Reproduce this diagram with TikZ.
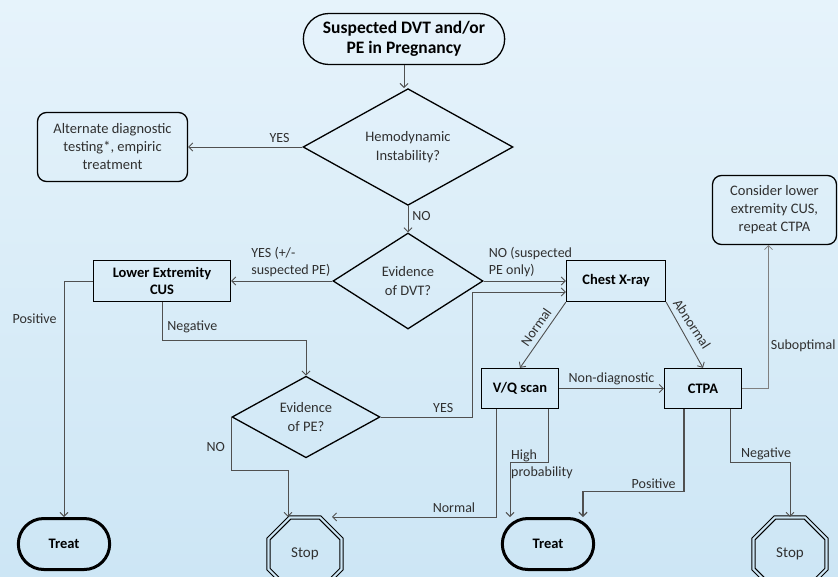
\documentclass[tikz,border=0pt]{standalone}
\usepackage{fontspec}
\setmainfont{Carlito}
\usepackage{tikz}
\usetikzlibrary{shapes, arrows, arrows.meta, positioning, calc}

\definecolor{bgtop}{HTML}{E6F3FB}
\definecolor{bgbottom}{HTML}{CDE6F5}
\definecolor{linkgray}{HTML}{505050}
\definecolor{textgray}{HTML}{303030}

\begin{document}
\begin{tikzpicture}[x=1pt, y=-1pt, >={Straight Barb[length=4pt, width=8pt]},
 box/.style={rectangle, draw, line width=1.3pt, inner sep=2pt, align=center, font=\bfseries\fontsize{14.5}{17}\selectfont},
 note/.style={rectangle, draw, rounded corners=9pt, line width=1.3pt, align=center, text=textgray, font=\fontsize{14.5}{18}\selectfont},
 decision/.style={diamond, draw, line width=1.3pt, inner sep=0pt, align=center, text=textgray, font=\fontsize{14.5}{19}\selectfont},
 terminal/.style={rounded rectangle, draw, line width=3pt, font=\bfseries\fontsize{14.5}{17}\selectfont, minimum width=98pt, minimum height=51pt},
 stopsign/.style={regular polygon, regular polygon sides=8, draw, double=bgbottom, line width=1.1pt, double distance=2.2pt, minimum size=79pt, inner sep=0pt, text=textgray, font=\fontsize{15}{18}\selectfont},
 link/.style={draw=linkgray, line width=0.9pt, ->},
 lbl/.style={inner sep=0pt, align=left, text=textgray, font=\fontsize{14}{17}\selectfont}]

\useasboundingbox (0,0) rectangle (838,576);
\shade[top color=bgtop, bottom color=bgbottom] (0,0) rectangle (838,576);
\clip (0,0) rectangle (838,576);

\node[terminal, line width=1.3pt, align=center, minimum width=208pt, font=\bfseries\fontsize{17.5}{20}\selectfont] (start) at (404,39) {Suspected DVT and/or\\PE in Pregnancy};
\node[decision, minimum width=210pt, minimum height=90pt] (hemo) at (408,147) {Hemodynamic\\Instability?};
\node[note, minimum width=150pt, minimum height=69pt] (alt) at (112.5,147) {Alternate diagnostic\\testing*, empiric\\treatment};
\node[decision, minimum width=150pt, minimum height=96pt] (dvt) at (408,281) {Evidence\\of DVT?};
\node[box, minimum width=137pt, minimum height=41pt] (cus) at (162,281) {Lower Extremity\\CUS};
\node[box, minimum width=99pt, minimum height=41pt] (cxr) at (616,281) {Chest X-ray};
\node[note, minimum width=124pt, minimum height=69pt] (consider) at (774.5,210) {Consider lower\\extremity CUS,\\repeat CTPA};
\node[box, minimum width=77pt, minimum height=40pt] (vq) at (520,388.5) {V/Q scan};
\node[box, minimum width=77pt, minimum height=40pt] (ctpa) at (703,388.5) {CTPA};
\node[decision, minimum width=148pt, minimum height=81pt] (pe) at (306,417) {Evidence\\of PE?};
\node[terminal] (treatA) at (64,544) {Treat};
\node[terminal] (treatB) at (548,544) {Treat};
\node[stopsign] (stopA) at (305,554) {Stop};
\node[stopsign] (stopB) at (790,554) {Stop};

% top of the tree
\draw[link] (start.south) -- (start.south |- hemo.north);
\draw[link] (hemo.west) -- node[lbl, above=4pt, pos=0.2] (yesalt) {YES} (alt.east);
\draw[link] (hemo.south) -- node[lbl, right=4pt, pos=0.37] (nohemo) {NO} (dvt.north);
\draw[link] (dvt.west) -- node[lbl, above=4pt, pos=0.41] (yesdvt) {YES (+/-\\suspected PE)} (cus.east);
\draw[link] (dvt.east) -- node[lbl, above=4pt, pos=0.57] (nodvt) {NO (suspected\\PE only)} (cxr.west);

% ultrasound branch
\draw[link] (cus.west) -| node[lbl, left=7pt, pos=0.58] (poscus) {Positive} (treatA.north);
\draw[link] (cus.south) -- node[lbl, right=5pt, pos=0.66] (negcus) {Negative} ++(0,38) -| (pe.north);
\draw[link] (pe.west) -- node[lbl, left=6pt, pos=0.57] (nope) {NO} ++(0,53) -| ($(stopA.north)+(-17,0)$);
\draw[link] (pe.east) -- node[lbl, above=4pt, pos=0.68] (yespe) {YES} ++(92,0) |- ($(cxr.west)+(0,11)$);

% imaging branch
\draw[link] (cxr.south west) -- (vq.north);
\node[lbl, rotate=55] (normcxr) at (536,327) {Normal};
\draw[link] (cxr.south east) -- (ctpa.north);
\node[lbl, rotate=-57] (abncxr) at (692,324) {Abnormal};
\draw[link] (vq.east) -- node[lbl, above=3pt] (nondiag) {Non-diagnostic} (ctpa.west);
\draw[link, draw=gray, line width=0.7pt] (ctpa.east) -| node[lbl, right=2pt, pos=0.65] (subopt) {Suboptimal} ([xshift=-6pt]consider.south);
\draw[link] ($(vq.south west)+(16,0)$) |- node[lbl, above=4pt, pos=0.63] (normvq) {Normal} ($(stopA.north)+(27,0)$);
\draw[link] ($(vq.south east)+(-11,0)$) -- ++(0,53) -| ($(treatB.north)+(-38,0)$);
\node[lbl, anchor=west] (highvq) at (511,464) {High\\probability};
\draw[link, line width=1.2pt] ($(ctpa.south)+(-19,0)$) -- ++(0,82) -| node[lbl, above=2pt, pos=0.15] (posctpa) {Positive} ($(treatB.north)+(35,0)$);
\draw[link] ($(ctpa.south east)+(-12,0)$) -- ++(0,53) -| node[lbl, above=2pt, pos=0.3] (negctpa) {Negative} (stopB.north);

\end{tikzpicture}
\end{document}
